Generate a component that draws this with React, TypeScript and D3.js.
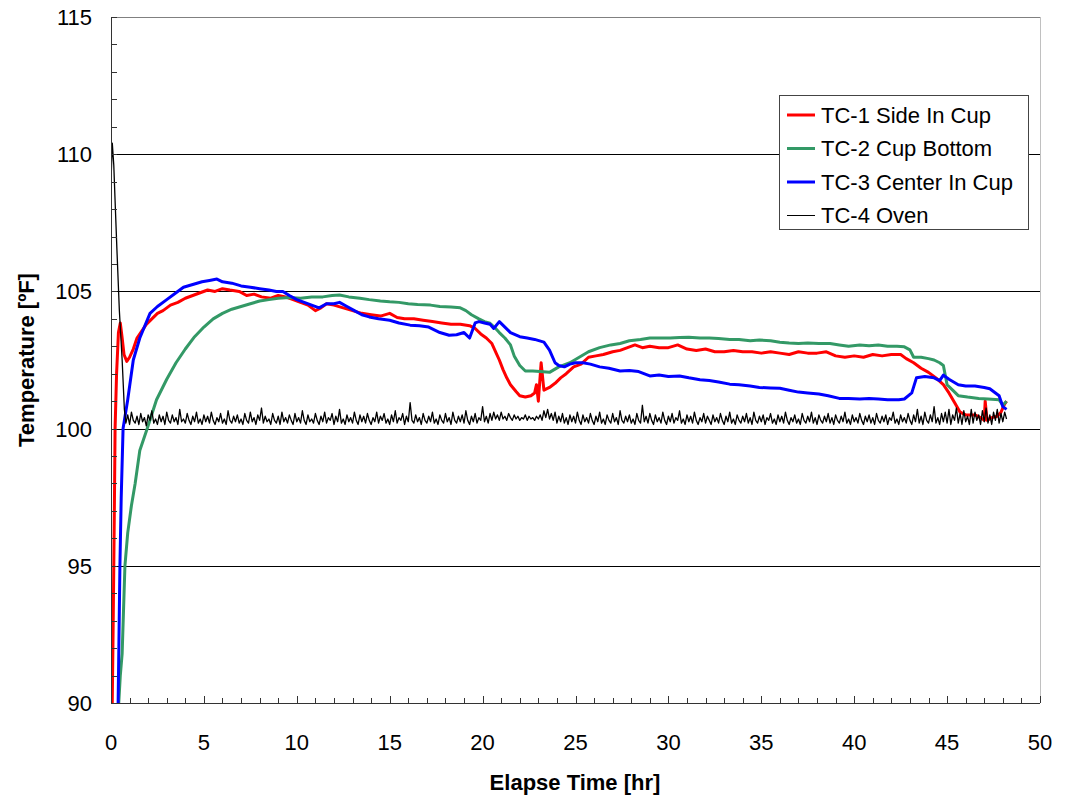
import React from 'react';
import * as d3 from 'd3';

const seriesNames = ['TC-1 Side In Cup', 'TC-2 Cup Bottom', 'TC-3 Center In Cup', 'TC-4 Oven'];
const seriesColors = ['#ff0000', '#339966', '#0000ff', '#000000'];
const xTickLabels = [0, 5, 10, 15, 20, 25, 30, 35, 40, 45, 50];
const yTickLabels = [90, 95, 100, 105, 110, 115];

// [hour, degF]
const tc1: [number, number][] = [
  [0.05, 89.0], [0.12, 93], [0.18, 97], [0.22, 100], [0.3, 102], [0.4, 103.5], [0.5, 103.85],
  [0.6, 103.3], [0.7, 102.7], [0.85, 102.45], [1.0, 102.6], [1.2, 102.9], [1.4, 103.3], [1.6, 103.5],
  [1.9, 103.8], [2.2, 104.0], [2.5, 104.2], [2.8, 104.3], [3.2, 104.5], [3.6, 104.6], [4.0, 104.75],
  [4.4, 104.85], [4.8, 104.95], [5.2, 105.05], [5.6, 105.0], [6.0, 105.1], [6.4, 105.05], [6.9, 105.0],
  [7.3, 104.85], [7.7, 104.9], [8.1, 104.8], [8.6, 104.75], [9.0, 104.85], [9.4, 104.8], [9.8, 104.7],
  [10.2, 104.6], [10.6, 104.5], [11.0, 104.3], [11.3, 104.4], [11.6, 104.55], [12.0, 104.5], [12.5, 104.4],
  [13.0, 104.3], [13.5, 104.2], [14.0, 104.15], [14.5, 104.1], [15.0, 104.2], [15.4, 104.05], [15.8, 104.0],
  [16.3, 104.0], [16.8, 103.95], [17.3, 103.9], [17.8, 103.85], [18.3, 103.8], [18.8, 103.8], [19.3, 103.75],
  [19.6, 103.65], [19.9, 103.45], [20.2, 103.3], [20.5, 103.1], [20.7, 102.8], [20.9, 102.5], [21.1, 102.15],
  [21.3, 101.85], [21.5, 101.6], [21.8, 101.35], [22.0, 101.2], [22.3, 101.15], [22.6, 101.2], [22.8, 101.3],
  [22.9, 101.6], [23.0, 101.0], [23.15, 102.4], [23.3, 101.4], [23.6, 101.5], [23.9, 101.65], [24.2, 101.85],
  [24.5, 102.0], [24.9, 102.25], [25.3, 102.35], [25.7, 102.6], [26.1, 102.65], [26.5, 102.7], [27.0, 102.8],
  [27.4, 102.85], [27.8, 102.95], [28.2, 103.05], [28.6, 102.95], [29.0, 103.0], [29.5, 102.95], [30.0, 102.95],
  [30.5, 103.05], [31.0, 102.9], [31.5, 102.85], [32.0, 102.9], [32.5, 102.8], [33.0, 102.8], [33.5, 102.85],
  [34.0, 102.8], [34.5, 102.8], [35.0, 102.75], [35.5, 102.8], [36.0, 102.75], [36.5, 102.7], [37.0, 102.8],
  [37.5, 102.75], [38.0, 102.75], [38.5, 102.8], [39.0, 102.65], [39.5, 102.6], [40.0, 102.65], [40.5, 102.6],
  [41.0, 102.7], [41.5, 102.65], [42.0, 102.7], [42.5, 102.7], [42.8, 102.55], [43.2, 102.4], [43.6, 102.2],
  [44.0, 102.05], [44.4, 101.85], [44.8, 101.6], [45.1, 101.3], [45.4, 100.95], [45.7, 100.6], [46.0, 100.5],
  [46.5, 100.5], [46.8, 100.4], [47.0, 100.3], [47.05, 101.0], [47.15, 100.3], [47.4, 100.4], [47.7, 100.45],
  [47.9, 100.6], [48.1, 100.9], [48.2, 101.0],
];

const tc2: [number, number][] = [
  [0.4, 89.8], [0.5, 91], [0.6, 91.8], [0.75, 95], [0.9, 96.2], [1.1, 97.2], [1.3, 98.0], [1.55, 99.2],
  [1.95, 100.0], [2.45, 101.05], [3.0, 101.8], [3.5, 102.4], [4.0, 102.9], [4.5, 103.35], [5.0, 103.7],
  [5.5, 104.0], [6.0, 104.2], [6.5, 104.35], [7.0, 104.45], [7.5, 104.55], [8.0, 104.65], [8.5, 104.7],
  [9.0, 104.75], [9.6, 104.78], [10.2, 104.75], [10.8, 104.8], [11.4, 104.8], [11.9, 104.85], [12.3, 104.87],
  [12.8, 104.8], [13.4, 104.75], [13.9, 104.7], [14.5, 104.65], [15.0, 104.62], [15.5, 104.6], [16.0, 104.55],
  [16.5, 104.52], [17.2, 104.5], [17.7, 104.45], [18.3, 104.43], [18.8, 104.4], [19.1, 104.3], [19.4, 104.15],
  [19.8, 104.0], [20.1, 103.9], [20.4, 103.84], [20.7, 103.65], [20.9, 103.5], [21.2, 103.3], [21.5, 103.05],
  [21.7, 102.65], [22.0, 102.3], [22.3, 102.1], [22.7, 102.1], [23.1, 102.08], [23.6, 102.05], [24.1, 102.25],
  [24.7, 102.4], [25.2, 102.6], [25.7, 102.8], [26.3, 102.95], [26.9, 103.05], [27.4, 103.1], [27.9, 103.2],
  [28.5, 103.25], [29.0, 103.3], [29.6, 103.3], [30.1, 103.3], [30.6, 103.32], [31.1, 103.33], [31.7, 103.3],
  [32.2, 103.3], [32.7, 103.28], [33.3, 103.25], [33.8, 103.25], [34.4, 103.2], [34.9, 103.23], [35.5, 103.2],
  [36.0, 103.15], [36.5, 103.12], [37.0, 103.1], [37.5, 103.12], [38.1, 103.1], [38.7, 103.1], [39.2, 103.05],
  [39.7, 103.0], [40.3, 103.05], [40.8, 103.02], [41.3, 103.05], [41.8, 103.0], [42.3, 103.0], [42.7, 102.98],
  [43.0, 102.87], [43.2, 102.6], [43.6, 102.6], [44.0, 102.55], [44.3, 102.5], [44.6, 102.4], [44.8, 102.3],
  [45.0, 101.6], [45.3, 101.4], [45.6, 101.2], [46.1, 101.15], [46.7, 101.1], [47.2, 101.08], [47.8, 101.05],
  [48.0, 100.85], [48.2, 101.0],
];

const tc3: [number, number][] = [
  [0.38, 89.8], [0.48, 95], [0.55, 97.5], [0.65, 100.0], [0.9, 101.05], [1.2, 102.5], [1.55, 103.3],
  [2.1, 104.2], [2.5, 104.45], [3.0, 104.7], [3.5, 104.95], [3.9, 105.15], [4.4, 105.25], [4.9, 105.35],
  [5.3, 105.4], [5.7, 105.45], [6.0, 105.35], [6.5, 105.3], [7.0, 105.2], [7.5, 105.15], [8.0, 105.1],
  [8.5, 105.05], [8.9, 105.0], [9.25, 105.0], [9.6, 104.85], [10.0, 104.7], [10.4, 104.6], [10.8, 104.5],
  [11.2, 104.4], [11.6, 104.55], [12.0, 104.55], [12.3, 104.6], [12.7, 104.45], [13.1, 104.3], [13.5, 104.15],
  [13.9, 104.07], [14.4, 104.0], [15.0, 103.95], [15.5, 103.85], [16.1, 103.77], [16.6, 103.75], [17.1, 103.7],
  [17.7, 103.5], [18.2, 103.4], [18.6, 103.42], [19.0, 103.5], [19.3, 103.3], [19.6, 103.85], [19.8, 103.9],
  [20.1, 103.85], [20.4, 103.8], [20.6, 103.65], [20.9, 103.9], [21.2, 103.7], [21.5, 103.5], [22.0, 103.35],
  [22.4, 103.3], [22.8, 103.25], [23.3, 103.15], [23.6, 102.86], [23.9, 102.4], [24.1, 102.3], [24.4, 102.25],
  [24.7, 102.35], [25.0, 102.4], [25.4, 102.4], [25.8, 102.35], [26.3, 102.25], [26.8, 102.2], [27.4, 102.1],
  [27.9, 102.12], [28.4, 102.08], [29.0, 101.92], [29.5, 101.95], [30.0, 101.9], [30.6, 101.92], [31.1, 101.85],
  [31.7, 101.78], [32.2, 101.75], [32.7, 101.7], [33.3, 101.62], [33.8, 101.6], [34.4, 101.55], [34.9, 101.5],
  [35.5, 101.48], [36.0, 101.47], [36.5, 101.4], [37.0, 101.33], [37.5, 101.3], [38.1, 101.26], [38.6, 101.2],
  [39.2, 101.1], [39.7, 101.1], [40.3, 101.08], [40.8, 101.1], [41.3, 101.08], [41.8, 101.05], [42.4, 101.05],
  [42.7, 101.08], [43.1, 101.3], [43.35, 101.85], [43.8, 101.9], [44.3, 101.85], [44.6, 101.75], [44.8, 101.95],
  [45.1, 101.8], [45.6, 101.6], [46.0, 101.55], [46.5, 101.55], [47.0, 101.5], [47.3, 101.45], [47.8, 101.2],
  [48.0, 100.8], [48.2, 100.7],
];

const ovenStartup: [number, number][] = [
  [0.0, 109.0], [0.07, 110.4], [0.15, 109.6], [0.22, 108.3], [0.32, 106.5], [0.45, 104.3], [0.6, 102.5],
  [0.72, 100.7],
];

// oven readings after warm-up, one every 0.1 hr from 0.8 hr
const ovenStart = 0.8;
const ovenStep = 0.1;
const ovenValues = [
  100.2, 100.5, 100.15, 100.6, 100.3, 100.2, 100.45, 100.15, 100.55, 100.25, 100.4, 100.1, 100.5, 100.3, 100.65, 100.2, 100.35, 100.15, 100.5, 100.25,
  100.45, 100.15, 100.6, 100.3, 100.2, 100.5, 100.25, 100.4, 100.15, 100.7, 100.25, 100.35, 100.2, 100.55, 100.3, 100.15, 100.45, 100.25, 100.6, 100.2,
  100.35, 100.15, 100.5, 100.25, 100.45, 100.2, 100.6, 100.3, 100.15, 100.4, 100.25, 100.55, 100.2, 100.35, 100.15, 100.65, 100.3, 100.2, 100.45, 100.25,
  100.5, 100.2, 100.35, 100.15, 100.55, 100.3, 100.2, 100.6, 100.25, 100.4, 100.15, 100.5, 100.3, 100.75, 100.2, 100.45, 100.25, 100.35, 100.15, 100.55,
  100.3, 100.2, 100.45, 100.15, 100.6, 100.25, 100.4, 100.2, 100.5, 100.3, 100.15, 100.55, 100.25, 100.4, 100.2, 100.65, 100.3, 100.15, 100.5, 100.25,
  100.35, 100.2, 100.55, 100.3, 100.15, 100.45, 100.25, 100.6, 100.2, 100.4, 100.3, 100.55, 100.15, 100.45, 100.25, 100.7, 100.2, 100.35, 100.15, 100.5,
  100.25, 100.4, 100.2, 100.6, 100.3, 100.15, 100.5, 100.25, 100.45, 100.2, 100.55, 100.3, 100.15, 100.4, 100.25, 100.6, 100.2, 100.45, 100.3, 100.55,
  100.2, 100.35, 100.15, 100.5, 100.25, 100.65, 100.2, 100.4, 100.3, 100.55, 100.15, 100.45, 100.25, 100.95, 100.3, 100.2, 100.5, 100.25, 100.4, 100.15,
  100.55, 100.3, 100.2, 100.45, 100.25, 100.6, 100.2, 100.35, 100.15, 100.5, 100.3, 100.2, 100.55, 100.25, 100.4, 100.15, 100.6, 100.3, 100.2, 100.45,
  100.25, 100.5, 100.2, 100.65, 100.3, 100.15, 100.45, 100.25, 100.55, 100.2, 100.4, 100.3, 100.8, 100.25, 100.45, 100.2, 100.55, 100.3, 100.6, 100.35,
  100.5, 100.3, 100.6, 100.35, 100.45, 100.3, 100.55, 100.4, 100.3, 100.5, 100.35, 100.45, 100.3, 100.4, 100.35, 100.5, 100.3, 100.45, 100.35, 100.4,
  100.3, 100.45, 100.35, 100.5, 100.3, 100.65, 100.4, 100.7, 100.35, 100.55, 100.3, 100.6, 100.2, 100.45, 100.25, 100.55, 100.2, 100.4, 100.15, 100.5,
  100.25, 100.45, 100.2, 100.6, 100.3, 100.15, 100.5, 100.25, 100.4, 100.2, 100.55, 100.3, 100.15, 100.45, 100.25, 100.6, 100.2, 100.35, 100.15, 100.5,
  100.3, 100.2, 100.55, 100.25, 100.4, 100.15, 100.65, 100.3, 100.2, 100.45, 100.25, 100.5, 100.2, 100.35, 100.15, 100.55, 100.3, 100.2, 100.85, 100.25,
  100.45, 100.2, 100.55, 100.3, 100.15, 100.5, 100.25, 100.4, 100.2, 100.6, 100.3, 100.15, 100.45, 100.25, 100.55, 100.2, 100.4, 100.3, 100.65, 100.2,
  100.35, 100.15, 100.5, 100.25, 100.45, 100.2, 100.6, 100.3, 100.15, 100.4, 100.25, 100.55, 100.2, 100.45, 100.3, 100.15, 100.5, 100.25, 100.4, 100.2,
  100.55, 100.3, 100.15, 100.45, 100.25, 100.6, 100.2, 100.35, 100.15, 100.5, 100.3, 100.2, 100.45, 100.25, 100.55, 100.2, 100.4, 100.15, 100.6, 100.3,
  100.2, 100.45, 100.25, 100.5, 100.15, 100.4, 100.3, 100.55, 100.2, 100.35, 100.15, 100.5, 100.25, 100.45, 100.2, 100.6, 100.3, 100.15, 100.4, 100.25,
  100.5, 100.2, 100.35, 100.15, 100.55, 100.3, 100.2, 100.45, 100.25, 100.6, 100.2, 100.4, 100.15, 100.5, 100.3, 100.2, 100.45, 100.25, 100.55, 100.2,
  100.4, 100.15, 100.5, 100.3, 100.2, 100.45, 100.25, 100.6, 100.2, 100.35, 100.15, 100.5, 100.25, 100.4, 100.2, 100.55, 100.3, 100.15, 100.45, 100.25,
  100.5, 100.2, 100.4, 100.15, 100.55, 100.3, 100.2, 100.45, 100.25, 100.5, 100.15, 100.4, 100.3, 100.6, 100.2, 100.35, 100.15, 100.5, 100.25, 100.4,
  100.2, 100.55, 100.3, 100.15, 100.5, 100.25, 100.7, 100.2, 100.45, 100.15, 100.6, 100.3, 100.2, 100.5, 100.25, 100.8, 100.2, 100.4, 100.15, 100.55,
  100.25, 100.6, 100.2, 100.7, 100.15, 100.5, 100.3, 100.75, 100.2, 100.55, 100.15, 100.65, 100.25, 100.45, 100.15, 100.7, 100.2, 100.6, 100.3, 100.5,
  100.15, 100.65, 100.25, 100.75, 100.2, 100.5, 100.15, 100.6, 100.3, 100.7, 100.2, 100.55, 100.25, 100.6, 100.35,
];

const tc4: [number, number][] = [
  ...ovenStartup,
  ...ovenValues.map((v, i) => [ovenStart + i * ovenStep, v] as [number, number]),
];

const allSeries = [tc1, tc2, tc3, tc4];

const font = '"Liberation Sans", Arial, sans-serif';

const App = () => {
  const width = 1066;
  const height = 796;
  const margin = { top: 17, right: 26, bottom: 93, left: 111 };
  const plotRight = width - margin.right;
  const plotBottom = height - margin.bottom;

  const xScale = d3.scaleLinear().domain([0, 50]).range([margin.left, plotRight]);
  const yScale = d3.scaleLinear().domain([90, 115]).range([plotBottom, margin.top]);

  const line = d3
    .line<[number, number]>()
    .x(d => xScale(d[0]))
    .y(d => yScale(d[1]));

  const px = (v: number) => Math.round(v) + 0.5;

  const legend = { x: 779, y: 95, w: 249, h: 134, row: 33.5 };

  return (
    <svg
      width={width}
      height={height}
      viewBox={`0 0 ${width} ${height}`}
      style={{ position: 'absolute', left: 0, top: 0, background: '#fff' }}
    >
      <defs>
        <clipPath id='plotClip'>
          <rect x={margin.left} y={margin.top} width={plotRight - margin.left} height={plotBottom - margin.top} />
        </clipPath>
      </defs>

      {/* gridlines */}
      {yTickLabels.filter(v => v > 90 && v < 115).map(v => (
        <line key={`g-${v}`} x1={margin.left} x2={plotRight} y1={px(yScale(v))} y2={px(yScale(v))} stroke='#000' strokeWidth={1} />
      ))}
      <line x1={margin.left} x2={plotRight} y1={px(yScale(115))} y2={px(yScale(115))} stroke='#808080' />
      <line x1={px(plotRight)} x2={px(plotRight)} y1={margin.top} y2={plotBottom} stroke='#c0c0c0' />

      {/* series */}
      <g clipPath='url(#plotClip)'>
        {allSeries.map((s, i) => (
          <path
            key={`s-${i}`}
            d={line(s) || ''}
            fill='none'
            stroke={seriesColors[i]}
            strokeWidth={i === 3 ? 1.3 : 3}
            strokeLinejoin='round'
          />
        ))}
      </g>

      {/* axes */}
      <line x1={px(margin.left)} x2={px(margin.left)} y1={margin.top} y2={plotBottom + 0.5} stroke='#333' />
      <line x1={margin.left} x2={plotRight} y1={px(plotBottom)} y2={px(plotBottom)} stroke='#333' />
      {yScale.ticks(25).map(v => (
        <line key={`yt-${v}`} x1={margin.left} x2={margin.left + 6} y1={px(yScale(v))} y2={px(yScale(v))} stroke='#333' />
      ))}
      {xScale.ticks(50).map(v => (
        <line
          key={`xt-${v}`}
          x1={px(xScale(v))}
          x2={px(xScale(v))}
          y1={plotBottom}
          y2={plotBottom - (v % 5 === 0 ? 7 : 5)}
          stroke='#333'
        />
      ))}

      {yTickLabels.map(v => (
        <text key={`yl-${v}`} x={92} y={yScale(v)} dy='0.36em' textAnchor='end' fontFamily={font} fontSize={22} fill='#000'>
          {v}
        </text>
      ))}
      {xTickLabels.map(v => (
        <text key={`xl-${v}`} x={xScale(v)} y={750} textAnchor='middle' fontFamily={font} fontSize={22} fill='#000'>
          {v}
        </text>
      ))}

      <text x={575} y={790} textAnchor='middle' fontFamily={font} fontSize={22} fontWeight='bold'>
        Elapse Time [hr]
      </text>
      <text
        transform={`translate(34, 360) rotate(-90)`}
        textAnchor='middle'
        fontFamily={font}
        fontSize={22}
        fontWeight='bold'
      >
        Temperature [ºF]
      </text>

      {/* legend */}
      <rect x={px(legend.x)} y={px(legend.y)} width={legend.w} height={legend.h} fill='#fff' stroke='#444' />
      {seriesNames.map((name, i) => {
        const cy = legend.y + 20 + i * legend.row;
        return (
          <g key={`lg-${i}`}>
            <line x1={787} x2={815} y1={cy} y2={cy} stroke={seriesColors[i]} strokeWidth={i === 3 ? 1 : 3} />
            <text x={821} y={cy} dy='0.36em' fontFamily={font} fontSize={22} fill='#000'>
              {name}
            </text>
          </g>
        );
      })}
    </svg>
  );
};

export default App;
